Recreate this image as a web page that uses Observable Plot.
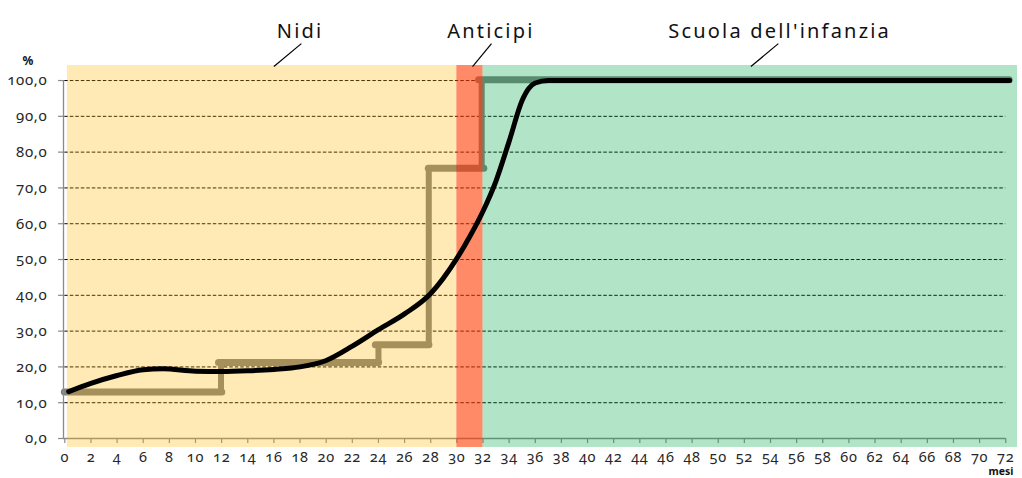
<!DOCTYPE html>
<html><head><meta charset="utf-8">
<script src="https://cdn.jsdelivr.net/npm/d3@7"></script>
<script src="https://cdn.jsdelivr.net/npm/@observablehq/plot@0.6"></script>
<style>
body{margin:0;background:#fff}
svg{display:block}
.ann text{letter-spacing:2.2px}
.tk text{font-variant-numeric:oldstyle-nums;letter-spacing:0.7px}
</style>
</head><body><div id="chart"></div>
<script>
// Black curve: share (%) vs age in months
const months   = [0.3, 2, 4, 6, 7.5, 10, 12, 14, 16, 18, 20, 22, 24, 26, 28, 30, 31, 32, 33, 34, 35, 35.5, 36, 37, 38, 72.3];
const coverage = [13.1, 15.4, 17.6, 19.2, 19.5, 18.8, 18.7, 18.9, 19.3, 20.0, 21.8, 25.8, 30.4, 34.8, 40.5, 50.3, 56.5, 63.5, 72, 83, 94.5, 97.8, 99.3, 100, 100, 100];

// Grey step series
const stepFrom  = [0, 11.8, 23.8, 27.85, 31.7];
const stepTo    = [12.05, 24.05, 27.9, 32.1, 72.3];
const stepLevel = [13, 21.2, 26.2, 75.5, 100.2];
const riserAt   = [11.95, 24, 27.85, 31.9];

// Background bands
const bandNames = ["Nidi", "Anticipi", "Scuola dell'infanzia"];
const bandFrom  = [0.2, 30, 32];
const bandTo    = [30, 32, 72.9];
const labelAt   = [18, 32.6, 54.7];
const leaderTop = [18.1, 32.65, 54.6];
const leaderBot = [16.0, 31.2, 52.5];

const yTicks = d3.range(0, 101, 10);
const xTicks = d3.range(0, 73, 2);

const curveData = months.map((m, i) => ({m, v: coverage[i]}));
const steps = stepLevel.map((v, i) => ({v, a: stepFrom[i], b: stepTo[i]}));
const risers = riserAt.map((x, i) => ({x, lo: stepLevel[i], hi: stepLevel[i + 1]}));
const bands = bandNames.map((name, i) => ({name, a: bandFrom[i], b: bandTo[i], at: labelAt[i], t: leaderTop[i], bt: leaderBot[i]}));
const fmt = d => d.toFixed(1).replace(".", ",");

const chart = Plot.plot({
  width: 1022, height: 478,
  marginLeft: 63, marginRight: 5, marginTop: 65, marginBottom: 40,
  x: {domain: [-0.1, 72.9], axis: null},
  y: {domain: [0, 104.2], axis: null},
  color: {domain: bandNames, range: ["rgb(255,183,0)", "rgb(255,60,3)", "rgb(0,170,70)"]},
  style: {fontFamily: "'Noto Sans', sans-serif", background: "white", overflow: "visible"},
  marks: [
    // grid + x axis (beneath the translucent bands)
    Plot.ruleY(yTicks.filter(d => d > 0), {x1: 0, x2: 72, stroke: "#000", strokeWidth: 1, strokeDasharray: "3.5,2"}),
    Plot.ruleY([0], {x1: -0.1, x2: 72, stroke: "#8a8a8a", strokeWidth: 1.3}),
    Plot.ruleX(xTicks, {x: d => d, y1: 0, y2: -1.4, stroke: "#8a8a8a", strokeWidth: 1.2}),
    // step series
    Plot.ruleY(steps, {y: "v", x1: "a", x2: "b", stroke: "#808080", strokeWidth: 7, strokeLinecap: "round"}),
    Plot.ruleX(risers, {x: "x", y1: "lo", y2: "hi", stroke: "#808080", strokeWidth: 6}),
    // bands
    Plot.rect(bands, {x1: "a", x2: "b", y1: -2.5, y2: 104.2, fill: "name", fillOpacity: d => d.name === "Anticipi" ? 0.6 : (d.name === "Nidi" ? 0.29 : 0.3)}),
    // y axis
    Plot.ruleX([-0.1], {y1: 0, y2: 100, stroke: "#8a8a8a", strokeWidth: 1.3}),
    Plot.ruleY(yTicks, {y: d => d, x1: -0.48, x2: -0.1, stroke: "#8a8a8a", strokeWidth: 1.2}),
    Plot.text(yTicks, {x: -0.1, y: d => d, dx: -16, textAnchor: "end", text: fmt, fontSize: 15, fill: "#262626", className: "tk"}),
    Plot.text(xTicks, {x: d => d, y: 0, dy: 19, text: d => String(d), fontSize: 14.5, fill: "#262626", className: "tk"}),
    // curve
    Plot.line(curveData, {x: "m", y: "v", curve: "monotone-x", stroke: "#000", strokeWidth: 5, strokeLinecap: "round", strokeLinejoin: "round"}),
    // annotations
    Plot.link(bands, {x1: "t", x2: "bt", y1: 110.3, y2: 103.9, stroke: "#000", strokeWidth: 1.2}),
    Plot.text(bands, {x: "at", frameAnchor: "top", dy: -41.4, text: "name", fontSize: 20, fill: "#111", className: "ann"}),
    Plot.text(["%"], {frameAnchor: "top-left", dx: -41, dy: -9, text: d => d, fontSize: 12, fontWeight: "bold", fill: "#111"}),
    Plot.text(["mesi"], {frameAnchor: "bottom-right", dx: -4, dy: 36.8, text: d => d, fontSize: 10.5, fontWeight: "bold", fill: "#111"})
  ]
});
document.getElementById("chart").appendChild(chart);
</script>
</body></html>
